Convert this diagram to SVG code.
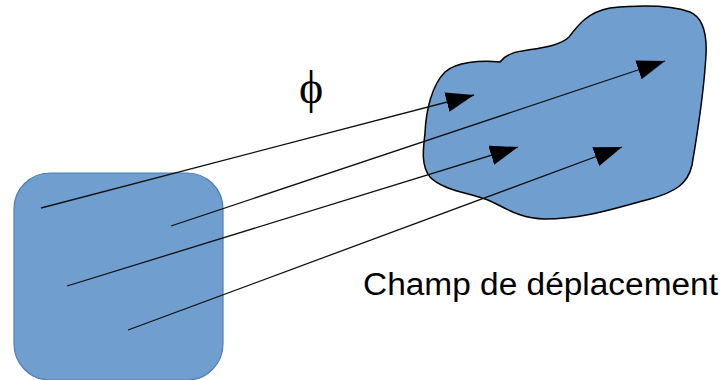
<svg xmlns="http://www.w3.org/2000/svg" width="726" height="380" viewBox="0 0 726 380">
<style>
.shape{fill:#6f9ecf}
.conn{stroke:#111;stroke-width:1.3;fill:none;marker-end:url(#ah)}
.lbl{font-family:"Liberation Sans",Arial,sans-serif;font-size:31px;fill:#000}
.phi{font-family:"Liberation Serif","Times New Roman",serif;font-size:46px;fill:#000}
</style>
<defs>
<marker id="ah" markerUnits="userSpaceOnUse" markerWidth="30" markerHeight="22" refX="28" refY="10" orient="auto" viewBox="0 0 30 22">
<polygon points="0,0 28,10 0,20" fill="#000"/>
</marker>
</defs>
<rect width="726" height="380" fill="#fff"/>
<g id="source">
<rect class="shape" x="14" y="173" width="209" height="207" rx="36" ry="36" stroke="#4f7fb8" stroke-width="1.2"/>
</g>
<g id="target">
<path class="shape" stroke="#000" stroke-width="1.5" d="M425,133 C426,110 432,85 445,72 C456,62 480,60 500,62 C505,56 512,52 522,51 C540,48 560,46 569,37 C578,25 588,12 610,8 C640,5 670,5 690,12 C704,18 707,35 706,55 C704,90 698,130 692,165 C688,184 675,192 650,199 C615,208 585,219 545,219 C515,219 498,202 482,198 C462,192 440,188 430,177 C421,166 423,150 425,133 Z"/>
</g>
<g id="connectors">
<line class="conn" x1="41" y1="208" x2="474" y2="95"/>
<line class="conn" x1="171" y1="226" x2="665" y2="61"/>
<line class="conn" x1="67" y1="286" x2="518" y2="147"/>
<line class="conn" x1="128" y1="330" x2="622" y2="147"/>
</g>
<g id="labels">
<text class="phi" x="311" y="103" text-anchor="middle">ϕ</text>
<text class="lbl" x="363" y="295" textLength="355" lengthAdjust="spacingAndGlyphs">Champ de déplacement</text>
</g>
</svg>
